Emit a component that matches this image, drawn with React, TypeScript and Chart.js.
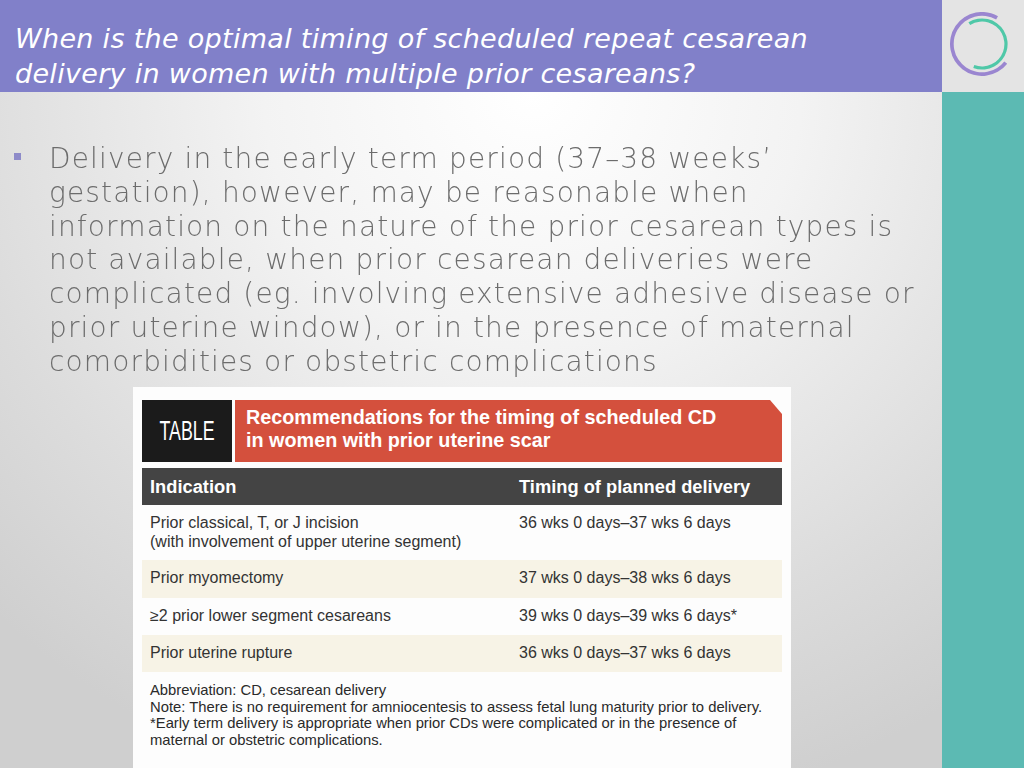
import React, { useEffect, useRef } from "react";
import { Chart, registerables } from "chart.js";

Chart.register(...registerables);

// ---- content ----
const titleLines = [
  "When is the optimal timing of scheduled repeat cesarean",
  "delivery in women with multiple prior cesareans?",
];
const bulletLines = [
  "Delivery in the early term period (37–38 weeks’",
  "gestation), however, may be reasonable when",
  "information on the nature of the prior cesarean types is",
  "not available, when prior cesarean deliveries were",
  "complicated (eg. involving extensive adhesive disease or",
  "prior uterine window), or in the presence of maternal",
  "comorbidities or obstetric complications",
];
const tableLabel = "TABLE";
const tableTitleLines = [
  "Recommendations for the timing of scheduled CD",
  "in women with prior uterine scar",
];
const columnHeaders = ["Indication", "Timing of planned delivery"];
const indications = [
  ["Prior classical, T, or J incision", "(with involvement of upper uterine segment)"],
  ["Prior myomectomy"],
  ["≥2 prior lower segment cesareans"],
  ["Prior uterine rupture"],
];
const timings = [
  "36 wks 0 days–37 wks 6 days",
  "37 wks 0 days–38 wks 6 days",
  "39 wks 0 days–39 wks 6 days*",
  "36 wks 0 days–37 wks 6 days",
];
const footnotes = [
  "Abbreviation: CD, cesarean delivery",
  "Note: There is no requirement for amniocentesis to assess fetal lung maturity prior to delivery.",
  "*Early term delivery is appropriate when prior CDs were complicated or in the presence of",
  "maternal or obstetric complications.",
];

// logo rings (doughnut): arc span and start angle in degrees
const logoRings = ["purple", "gap", "teal"];
const logoSpans = [262, 0, 232];
const logoStarts = [128, 0, -32];

const PURPLE = "#8180c9";
const TEAL = "#5cbab3";

function Logo() {
  const ref = useRef<HTMLCanvasElement | null>(null);
  useEffect(() => {
    if (!ref.current) return;
    const colors = ["#9a86d0", "rgba(0,0,0,0)", "#4fc8a8"];
    const weights = [3.5, 2.5, 3];
    const chart = new Chart(ref.current, {
      type: "doughnut",
      data: {
        labels: ["arc", "rest"],
        datasets: logoRings.map((name, i) => ({
          label: name,
          data: [logoSpans[i], 360 - logoSpans[i]],
          backgroundColor: [colors[i], "rgba(0,0,0,0)"],
          borderWidth: 0,
          rotation: logoStarts[i],
          weight: weights[i],
        })) as any,
      },
      options: {
        animation: false,
        responsive: false,
        cutout: "70%",
        layout: { padding: 0 },
        plugins: { legend: { display: false }, tooltip: { enabled: false } },
        events: [],
      } as any,
    });
    return () => chart.destroy();
  }, []);
  return (
    <canvas
      ref={ref}
      width={64}
      height={64}
      style={{ position: "absolute", left: 950, top: 12, width: 64, height: 64 }}
    />
  );
}

const abs = (s: React.CSSProperties): React.CSSProperties => ({ position: "absolute", whiteSpace: "nowrap", ...s });

const withBreaks = (lines: string[]) =>
  lines.map((t, i) => (
    <React.Fragment key={i}>
      {i > 0 && <br />}
      {t}
    </React.Fragment>
  ));

export default function App() {
  const bodyFont = "'DejaVu Sans', sans-serif";
  const tblFont = "'Liberation Sans Narrow', 'Liberation Sans', Arial, sans-serif";
  const rowTops = [505, 560, 598, 635];
  const rowH = [55, 38, 37, 37];
  return (
    <div
      style={{
        position: "fixed",
        left: 0,
        top: 0,
        width: 1024,
        height: 768,
        overflow: "hidden",
        background:
          "radial-gradient(ellipse 75% 95% at 52% 12%, #ffffff 0%, #f3f3f3 35%, #dcdcdc 75%, #cfcfcf 100%)",
        fontFamily: bodyFont,
      }}
    >
      {/* header */}
      <div style={abs({ left: 0, top: 0, width: 942, height: 92, background: PURPLE })} />
      <div
        style={abs({
          left: 15,
          top: 20.5,
          fontSize: 27,
          lineHeight: "35px",
          letterSpacing: "0.3px",
          color: "#ffffff",
          fontStyle: "italic",
        })}
      >
        {withBreaks(titleLines)}
      </div>
      {/* right sidebar */}
      <div style={abs({ left: 942, top: 0, width: 82, height: 92, background: "#e4e4e4" })} />
      <div style={abs({ left: 942, top: 92, width: 82, height: 676, background: TEAL })} />
      <Logo />

      {/* bullet */}
      <div style={abs({ left: 14, top: 153, width: 7, height: 7, background: "#8e8bc9" })} />
      <div
        style={abs({
          left: 49,
          top: 142,
          fontSize: 28,
          lineHeight: "33.8px",
          letterSpacing: "1.15px",
          color: "#6c6c6c",
          fontWeight: 200,
        })}
      >
        {withBreaks(bulletLines)}
      </div>

      {/* table image */}
      <div style={abs({ left: 133, top: 387, width: 658, height: 381, background: "#fdfdfd", fontFamily: tblFont })}>
        <div style={abs({ left: 9, top: 13, width: 90, height: 62, background: "#1b1b1b" })} />
        <div
          style={abs({
            left: 9,
            top: 13,
            width: 90,
            height: 62,
            color: "#ffffff",
            fontSize: 27,
            lineHeight: "62px",
            textAlign: "center",
            transform: "scaleX(0.66)",
            transformOrigin: "50% 50%",
          })}
        >
          {tableLabel}
        </div>
        <div
          style={abs({
            left: 102,
            top: 13,
            width: 547,
            height: 62,
            background: "#d4503d",
            clipPath: "polygon(0 0, 535px 0, 547px 14px, 547px 62px, 0 62px)",
          })}
        />
        <div
          style={abs({
            left: 113,
            top: 19,
            fontSize: 19.8,
            lineHeight: "23px",
            color: "#ffffff",
            fontWeight: 700,
          })}
        >
          {withBreaks(tableTitleLines)}
        </div>
        {/* header row */}
        <div style={abs({ left: 9, top: 81, width: 640, height: 37, background: "#444444" })} />
        <div style={abs({ left: 17, top: 81, fontSize: 18.3, lineHeight: "37px", color: "#fff", fontWeight: 700 })}>
          {columnHeaders[0]}
        </div>
        <div style={abs({ left: 386, top: 81, fontSize: 18.3, lineHeight: "37px", color: "#fff", fontWeight: 700 })}>
          {columnHeaders[1]}
        </div>
        {indications.map((lines, r) => (
          <React.Fragment key={r}>
            <div
              style={abs({
                left: 9,
                top: rowTops[r] - 387,
                width: 640,
                height: rowH[r],
                background: r % 2 === 1 ? "#f7f3e6" : "#fdfdfd",
              })}
            />
            <div
              style={abs({
                left: 17,
                top: rowTops[r] - 387 + 8,
                fontSize: 16,
                lineHeight: "19px",
                color: "#333333",
              })}
            >
              {withBreaks(lines)}
            </div>
            <div
              style={abs({
                left: 386,
                top: rowTops[r] - 387 + 8,
                fontSize: 16,
                lineHeight: "19px",
                color: "#333333",
              })}
            >
              {timings[r]}
            </div>
          </React.Fragment>
        ))}
        <div
          style={abs({
            left: 17,
            top: 295,
            fontSize: 14.8,
            lineHeight: "16.6px",
            color: "#2a2a2a",
          })}
        >
          {withBreaks(footnotes)}
        </div>
      </div>
    </div>
  );
}
